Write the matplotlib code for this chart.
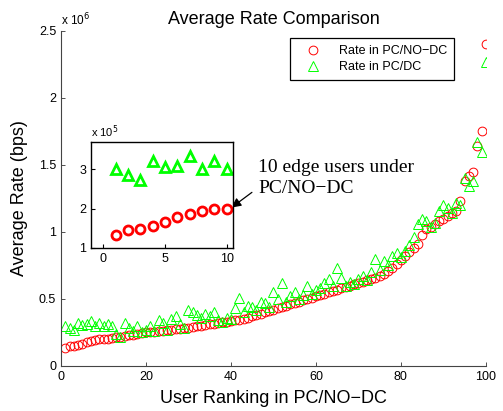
import matplotlib
matplotlib.use('Agg')
import matplotlib.pyplot as plt
from matplotlib.ticker import FuncFormatter
import numpy as np

# user index (ranked by PC/NO-DC rate)
users = np.arange(1, 101)

# average rate in PC/NO-DC, bps (sorted)
rate_nodc = np.array([
    0.133, 0.146, 0.149, 0.155, 0.165, 0.180, 0.186, 0.195, 0.199, 0.200,
    0.205, 0.210, 0.215, 0.220, 0.225, 0.230, 0.235, 0.240, 0.245, 0.250,
    0.253, 0.256, 0.260, 0.263, 0.266, 0.270, 0.274, 0.278, 0.282, 0.286,
    0.290, 0.295, 0.300, 0.305, 0.310, 0.315, 0.320, 0.325, 0.330, 0.335,
    0.340, 0.345, 0.350, 0.360, 0.370, 0.380, 0.390, 0.400, 0.410, 0.420,
    0.430, 0.440, 0.450, 0.460, 0.470, 0.480, 0.490, 0.500, 0.510, 0.520,
    0.530, 0.540, 0.550, 0.560, 0.570, 0.580, 0.590, 0.600, 0.610, 0.620,
    0.630, 0.640, 0.650, 0.660, 0.670, 0.690, 0.710, 0.730, 0.760, 0.790,
    0.820, 0.850, 0.880, 0.910, 0.980, 1.020, 1.040, 1.060, 1.080, 1.100,
    1.120, 1.140, 1.160, 1.230, 1.380, 1.420, 1.450, 1.640, 1.750, 2.400]) * 1e6

# average rate in PC/DC for the same users, bps
rate_dc = np.array([
    0.300, 0.285, 0.272, 0.322, 0.305, 0.310, 0.335, 0.300, 0.322, 0.300,
    0.310, 0.300, 0.240, 0.220, 0.320, 0.280, 0.260, 0.300, 0.250, 0.270,
    0.300, 0.260, 0.340, 0.320, 0.270, 0.350, 0.370, 0.310, 0.280, 0.420,
    0.400, 0.380, 0.360, 0.390, 0.370, 0.400, 0.340, 0.330, 0.360, 0.350,
    0.430, 0.510, 0.400, 0.450, 0.440, 0.420, 0.480, 0.470, 0.440, 0.550,
    0.500, 0.620, 0.480, 0.520, 0.550, 0.500, 0.530, 0.600, 0.540, 0.570,
    0.580, 0.620, 0.650, 0.600, 0.730, 0.660, 0.600, 0.630, 0.610, 0.650,
    0.670, 0.640, 0.700, 0.800, 0.720, 0.780, 0.750, 0.820, 0.840, 0.810,
    0.860, 0.900, 0.960, 1.060, 1.100, 1.080, 1.040, 1.070, 1.160, 1.200,
    1.180, 1.140, 1.220, 1.200, 1.400, 1.340, 1.380, 1.670, 1.600, 2.270]) * 1e6

n_edge = 10

plt.rcParams['font.family'] = ['Liberation Sans', 'DejaVu Sans']

fig = plt.figure(figsize=(5.03, 4.11), dpi=100)
ax = fig.add_axes([0.1213, 0.1095, 0.8447, 0.8151])

ax.plot(users, rate_nodc, 'o', color='#ff0000', mfc='none', ms=6.3, mew=0.7,
        label='Rate in PC/NO\u2212DC')
ax.plot(users, rate_dc, '^', color='#00ff00', mfc='none', ms=6.8, mew=0.7,
        label='Rate in PC/DC')

ax.set_xlim(0, 100)
ax.set_ylim(0, 2.5e6)
ax.set_xticks([0, 20, 40, 60, 80, 100])
ax.set_yticks(np.arange(0, 2.51e6, 0.5e6))
ax.yaxis.set_major_formatter(FuncFormatter(lambda v, p: '%g' % (v / 1e6)))
ax.tick_params(direction='in', labelsize=9, length=3, width=0.6, colors='#333333',
               labelcolor='black')
for s in ['top', 'right']:
    ax.spines[s].set_visible(False)
for s in ['left', 'bottom']:
    ax.spines[s].set_color('#444444')
    ax.spines[s].set_linewidth(0.8)
ax.text(0.0, 1.008, 'x 10$^6$', transform=ax.transAxes, fontsize=8.5,
        ha='left', va='bottom')

ax.set_title('Average Rate Comparison', fontsize=13, pad=5)
ax.set_xlabel('User Ranking in PC/NO\u2212DC', fontsize=13, labelpad=5)
ax.set_ylabel('Average Rate (bps)', fontsize=13, labelpad=8)

leg = ax.legend(loc='upper left', bbox_to_anchor=(0.5765, 0.9075),
                bbox_transform=fig.transFigure, borderaxespad=0, fontsize=9,
                fancybox=False, edgecolor='black', framealpha=1,
                handlelength=2.6, handletextpad=0.8, borderpad=0.55,
                labelspacing=0.35)
leg.get_frame().set_linewidth(0.9)

# inset: the 10 edge users
ins = fig.add_axes([0.181, 0.3966, 0.2817, 0.258])
ins.plot(users[:n_edge], rate_nodc[:n_edge], 'o', color='#ff0000', mfc='none',
         ms=6.5, mew=2)
ins.plot(users[:n_edge], rate_dc[:n_edge], '^', color='#00ff00', mfc='none',
         ms=7, mew=2)
ins.set_xlim(-1, 10.5)
ins.set_ylim(1e5, 3.7e5)
ins.set_xticks([0, 5, 10])
ins.set_yticks([1e5, 2e5, 3e5])
ins.yaxis.set_major_formatter(FuncFormatter(lambda v, p: '%g' % (v / 1e5)))
ins.tick_params(direction='in', labelsize=9, length=3)
for s in ins.spines.values():
    s.set_linewidth(1.0)
ins.text(0.0, 1.02, 'x 10$^5$', transform=ins.transAxes, fontsize=8,
         ha='left', va='bottom')

ax.annotate('10 edge users under\nPC/NO\u2212DC',
            xy=(10.4, 2.03e5), xycoords=ins.transData,
            xytext=(0.513, 0.52), textcoords='figure fraction',
            fontsize=14, family='Liberation Serif', ha='left', va='bottom',
            linespacing=1.3,
            arrowprops=dict(arrowstyle='-|>', color='black', lw=0.9,
                            mutation_scale=14, shrinkA=3, shrinkB=0,
                            relpos=(0.0, 0.25)))

fig.savefig('out.png', dpi=100)
